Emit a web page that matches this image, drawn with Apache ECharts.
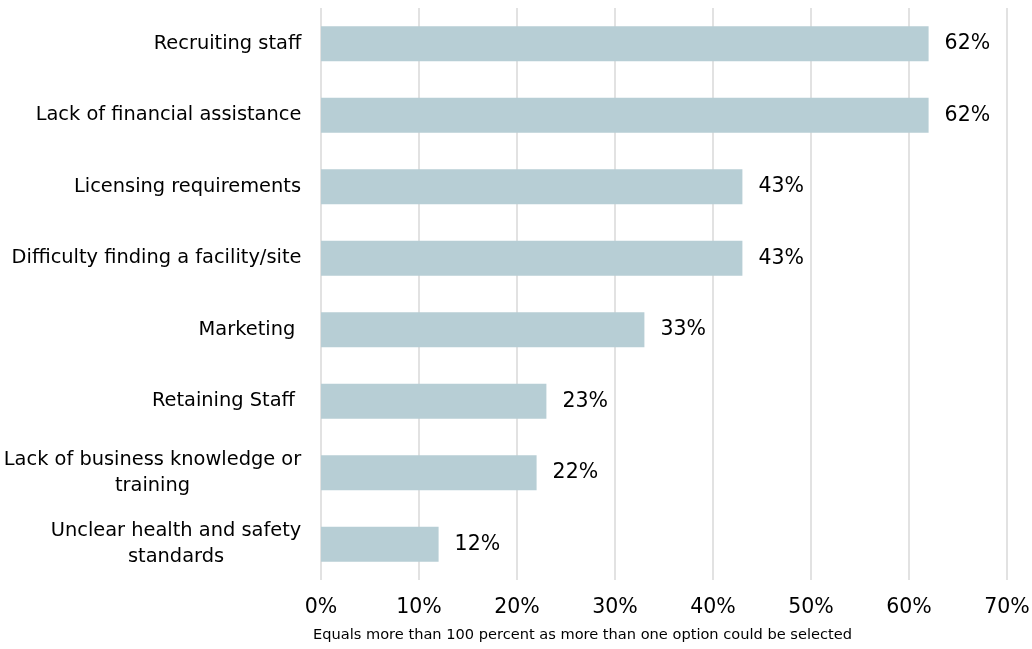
<!DOCTYPE html>
<html>
<head>
<meta charset="utf-8">
<script src="https://cdn.jsdelivr.net/npm/echarts@6/dist/echarts.min.js"></script>
<style>
  html, body { margin: 0; padding: 0; background: #fff; }
  #chart { width: 1032px; height: 649px; }
</style>
</head>
<body>
<div id="chart"></div>
<script>
// Challenges reported, share of respondents (%)
const categories = [
  'Recruiting staff',
  'Lack of financial assistance',
  'Licensing requirements',
  'Difficulty finding a facility/site',
  'Marketing ',
  'Retaining Staff ',
  'Lack of business knowledge or\ntraining',
  'Unclear health and safety\nstandards'
];
const values = [62, 62, 43, 43, 33, 23, 22, 12];
const xTicks = [0, 10, 20, 30, 40, 50, 60, 70];
const footnote = 'Equals more than 100 percent as more than one option could be selected';

const FONT = '"DejaVu Sans", sans-serif';
const LABEL_SIZE = 19.4;

// Width of the widest line of each label, so wrapped lines centre under each other
const ctx = document.createElement('canvas').getContext('2d');
ctx.font = LABEL_SIZE + 'px ' + FONT;
const rich = {};
categories.forEach((c, i) => {
  const w = Math.max(...c.split('\n').map(s => ctx.measureText(s).width));
  rich['c' + i] = { width: Math.ceil(w) + 1, align: 'center', fontSize: LABEL_SIZE, fontFamily: FONT, color: '#000', lineHeight: 26 };
});

const chart = echarts.init(document.getElementById('chart'), null, { renderer: 'canvas' });
chart.setOption({
  animation: false,
  backgroundColor: '#fff',
  grid: { left: 321, right: 25, top: 8, bottom: 69, containLabel: false, outerBoundsMode: 'none' },
  xAxis: {
    type: 'value', min: 0, max: 70, interval: 10,
    axisLine: { show: false }, axisTick: { show: false },
    splitLine: { show: true, lineStyle: { color: '#d9d9d9', width: 1.5 } },
    axisLabel: { formatter: v => xTicks.includes(v) ? v + '%' : '', fontSize: 20.5, fontFamily: FONT, color: '#000', margin: 17 }
  },
  yAxis: {
    type: 'category', inverse: true, data: categories,
    axisLine: { show: false }, axisTick: { show: false },
    axisLabel: {
      margin: 19,
      formatter: (v, i) => v.split('\n').map(s => '{c' + i + '|' + s + '}').join('\n'),
      rich
    }
  },
  series: [{
    type: 'bar', data: values, barWidth: 35,
    itemStyle: { color: '#b7ced5' },
    label: { show: true, position: 'right', distance: 16, formatter: '{c}%', fontSize: 20.5, fontFamily: FONT, color: '#000' }
  }],
  graphic: [{
    type: 'text', left: 313, top: 628,
    style: { text: footnote, fontSize: 14.6, fontFamily: FONT, fill: '#000' }
  }]
});
</script>
</body>
</html>
